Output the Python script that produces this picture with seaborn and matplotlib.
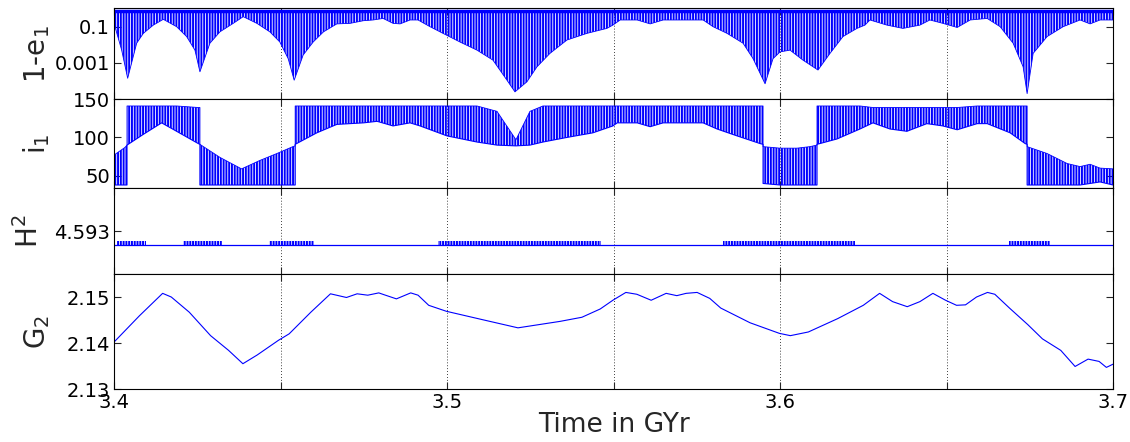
import numpy as np
import pandas as pd
import seaborn as sns
import matplotlib.pyplot as plt
from matplotlib.ticker import FixedLocator, FixedFormatter, NullLocator

# ---- 1-e1 : tips of the oscillation (upper edge is nearly flat) ----
e1_t = [3.4000, 3.4023, 3.4041, 3.4068, 3.4088, 3.4118, 3.4148, 3.4188, 3.4218,
        3.4243, 3.4258, 3.4288, 3.4318, 3.4358, 3.4388, 3.4429, 3.4468, 3.4498,
        3.4523, 3.4541, 3.4568, 3.4598, 3.4629, 3.4669, 3.4709, 3.4749, 3.4778,
        3.4808, 3.4838, 3.4859, 3.4889, 3.4913, 3.4949, 3.4988, 3.5039, 3.5090,
        3.5138, 3.5180, 3.5204, 3.5240, 3.5270, 3.5309, 3.5360, 3.5420, 3.5480,
        3.5498, 3.5520, 3.5571, 3.5610, 3.5649, 3.5769, 3.5799, 3.5841, 3.5889,
        3.5919, 3.5955, 3.5979, 3.6000, 3.6030, 3.6069, 3.6114, 3.6150, 3.6189,
        3.6231, 3.6255, 3.6270, 3.6321, 3.6369, 3.6420, 3.6450, 3.6489, 3.6532,
        3.6571, 3.6622, 3.6661, 3.6700, 3.6730, 3.6742, 3.6760, 3.6802, 3.6850,
        3.6901, 3.6931, 3.6961, 3.7000]
e1_low = [0.15, 5e-3, 1.4e-4, 0.012, 0.042, 0.12, 0.25, 0.098, 0.028,
          5e-3, 3.2e-4, 0.012, 0.051, 0.15, 0.35, 0.15, 0.051, 0.014,
          1.7e-3, 1.1e-4, 2.7e-3, 0.014, 0.051, 0.14, 0.15, 0.21, 0.23,
          0.28, 0.15, 0.14, 0.23, 0.23, 0.098, 0.042, 0.014, 5e-3,
          1.4e-3, 1.1e-4, 2.5e-5, 9e-5, 6e-4, 3.3e-3, 0.018, 0.042, 0.079,
          0.12, 0.23, 0.23, 0.14, 0.23, 0.23, 0.098, 0.042, 0.012,
          1.7e-3, 7e-5, 1.7e-3, 4e-3, 5e-3, 1.4e-3, 4e-4, 3.3e-3, 0.028,
          0.079, 0.12, 0.23, 0.12, 0.079, 0.12, 0.23, 0.15, 0.089,
          0.23, 0.28, 0.098, 0.012, 6e-4, 2e-5, 3.3e-3, 0.028, 0.098,
          0.23, 0.14, 0.23, 0.23]
E1_TOP = 0.7

# ---- i1 : upper / lower edges of the oscillation ----
inc_t = [3.4000, 3.4033, 3.4039, 3.4039, 3.4088, 3.4143, 3.4188, 3.4253, 3.4258,
         3.4258, 3.4318, 3.4383, 3.4438, 3.4489, 3.4537, 3.4544, 3.4544, 3.4609,
         3.4669, 3.4749, 3.4790, 3.4838, 3.4889, 3.4919, 3.5000, 3.5090, 3.5150,
         3.5207, 3.5249, 3.5288, 3.5360, 3.5438, 3.5498, 3.5511, 3.5571, 3.5610,
         3.5649, 3.5769, 3.5811, 3.5871, 3.5940, 3.5949, 3.5949, 3.6000, 3.6051,
         3.6090, 3.6111, 3.6111, 3.6171, 3.6240, 3.6279, 3.6330, 3.6381, 3.6441,
         3.6489, 3.6532, 3.6592, 3.6622, 3.6691, 3.6736, 3.6742, 3.6742, 3.6802,
         3.6862, 3.6901, 3.6931, 3.6961, 3.7000]
inc_up = [77, 87, 90, 141, 141, 141, 141, 139, 139,
          91, 74, 59, 70, 79, 88, 89, 141, 141,
          141, 141, 141, 141, 141, 141, 141, 141, 134,
          97, 134, 141, 141, 141, 141, 141, 141, 141,
          141, 141, 141, 141, 141, 141, 88, 86, 86,
          88, 90, 141, 141, 141, 139, 139, 139, 139,
          139, 139, 141, 141, 141, 141, 141, 88, 79,
          66, 62, 65, 60, 59]
inc_low = [38, 38, 38, 90, 104, 119, 108, 92, 91,
           38, 38, 38, 38, 38, 38, 38, 91, 106,
           117, 119, 121, 115, 119, 115, 102, 94, 90,
           89, 90, 94, 100, 106, 115, 119, 119, 114,
           119, 119, 111, 102, 92, 91, 40, 38, 38,
           38, 38, 91, 98, 111, 119, 111, 108, 118,
           115, 110, 118, 118, 106, 92, 91, 38, 38,
           38, 38, 40, 42, 38]

# ---- H^2 : flat level with short bursts ----
h2_base = 4.592837
h2_tip = 4.592884
h2_on = [3.4009, 3.4207, 3.4465, 3.4973, 3.5829, 3.6688]
h2_off = [3.4096, 3.4324, 3.4601, 3.5462, 3.6225, 3.6811]

# ---- G2 ----
g2_t = [3.4000, 3.4076, 3.4146, 3.4172, 3.4226, 3.4290, 3.4344, 3.4387, 3.4430,
        3.4494, 3.4526, 3.4591, 3.4650, 3.4698, 3.4730, 3.4762, 3.4795, 3.4811,
        3.4848, 3.4891, 3.4913, 3.4945, 3.4998, 3.5105, 3.5213, 3.5339, 3.5405,
        3.5460, 3.5498, 3.5537, 3.5570, 3.5613, 3.5658, 3.5690, 3.5718, 3.5751,
        3.5789, 3.5822, 3.5910, 3.5998, 3.6031, 3.6085, 3.6173, 3.6250, 3.6299,
        3.6338, 3.6382, 3.6420, 3.6459, 3.6497, 3.6530, 3.6557, 3.6590, 3.6623,
        3.6645, 3.6689, 3.6744, 3.6788, 3.6843, 3.6886, 3.6925, 3.6958, 3.6980,
        3.7000]
g2 = [2.1402, 2.1459, 2.1508, 2.1500, 2.1467, 2.1416, 2.1384, 2.1355, 2.1374,
      2.1406, 2.1420, 2.1467, 2.1507, 2.1499, 2.1507, 2.1504, 2.1509, 2.1505,
      2.1496, 2.1509, 2.1504, 2.1482, 2.1469, 2.1451, 2.1433, 2.1447, 2.1456,
      2.1474, 2.1493, 2.1510, 2.1506, 2.1493, 2.1508, 2.1503, 2.1508, 2.1510,
      2.1497, 2.1476, 2.1444, 2.1421, 2.1416, 2.1424, 2.1453, 2.1482, 2.1508,
      2.1490, 2.1479, 2.1490, 2.1508, 2.1493, 2.1482, 2.1483, 2.1500, 2.1510,
      2.1506, 2.1476, 2.1440, 2.1409, 2.1384, 2.1349, 2.1365, 2.1360, 2.1347,
      2.1354]

BLUE = '#0000ff'

sns.set_style('ticks')
plt.rcParams['font.family'] = ['DejaVu Sans']
plt.rcParams['mathtext.default'] = 'regular'
plt.rcParams['hatch.linewidth'] = 1.4
plt.rcParams['hatch.color'] = BLUE

fig = plt.figure(figsize=(11.3, 4.42), dpi=100)
gs = fig.add_gridspec(4, 1, height_ratios=[90.7, 89, 86, 115], hspace=0,
                      left=0.1009, right=0.985, top=0.981, bottom=0.1199)
axes = [fig.add_subplot(gs[0])]
for i in range(1, 4):
    axes.append(fig.add_subplot(gs[i], sharex=axes[0]))
ax1, ax2, ax3, ax4 = axes

# panel 1
ax1.set_yscale('log')
ax1.fill_between(e1_t, e1_low, E1_TOP, facecolor='none', edgecolor=BLUE,
                 hatch='||||||', linewidth=0)
sns.lineplot(x=e1_t, y=e1_low, ax=ax1, color=BLUE, lw=0.6, estimator=None, sort=False)
sns.lineplot(x=[3.4, 3.7], y=[E1_TOP, E1_TOP], ax=ax1, color=BLUE, lw=2.5, estimator=None)
ax1.set_ylim(1e-5, 1)
ax1.yaxis.set_major_locator(FixedLocator([1e-3, 1e-1]))
ax1.yaxis.set_major_formatter(FixedFormatter(['0.001', '0.1']))
ax1.yaxis.set_minor_locator(NullLocator())
ax1.set_ylabel(r'1-e$_1$')

# panel 2
ax2.fill_between(inc_t, inc_low, inc_up, facecolor='none', edgecolor=BLUE,
                 hatch='||||||', linewidth=0)
sns.lineplot(x=inc_t, y=inc_low, ax=ax2, color=BLUE, lw=0.8, estimator=None, sort=False)
sns.lineplot(x=inc_t, y=inc_up, ax=ax2, color=BLUE, lw=0.6, estimator=None, sort=False)
ax2.set_ylim(34, 150)
ax2.set_yticks([50, 100, 150])
ax2.set_ylabel(r'i$_1$')

# panel 3
sns.lineplot(x=[3.4, 3.7], y=[h2_base, h2_base], ax=ax3, color=BLUE, lw=0.9, estimator=None)
for a, b in zip(h2_on, h2_off):
    ax3.fill_between([a, b], h2_base, h2_tip, facecolor='none', edgecolor=BLUE,
                     hatch='||||||', linewidth=0)
ax3.set_ylim(4.5925, 4.5935)
ax3.set_yticks([4.593])
ax3.set_yticklabels(['4.593'])
ax3.set_ylabel(r'H$^2$')

# panel 4
sns.lineplot(x=g2_t, y=g2, ax=ax4, color=BLUE, lw=0.8, estimator=None)
ax4.set_ylim(2.13, 2.155)
ax4.set_yticks([2.13, 2.14, 2.15])
ax4.set_yticklabels(['2.13', '2.14', '2.15'])
ax4.set_ylabel(r'G$_2$')
ax4.set_xlabel('Time in GYr', fontsize=19, labelpad=0)

xt = [3.4, 3.45, 3.5, 3.55, 3.6, 3.65, 3.7]
for ax in axes:
    ax.set_xlim(3.4, 3.7)
    ax.set_xticks(xt)
    ax.grid(axis='x', color='black', linestyle=(0, (1, 2.5)), linewidth=0.6)
    ax.tick_params(direction='in', length=5, width=0.8, top=True, right=True,
                   labelsize=14, colors='#262626', labelcolor='black', pad=3)
    for s in ax.spines.values():
        s.set_color('black')
        s.set_linewidth(0.8)
    ax.yaxis.label.set_size(20)
    ax.yaxis.set_label_coords(-0.062, 0.5)
    if ax is not ax4:
        ax.tick_params(labelbottom=False)
ax3.yaxis.set_label_coords(-0.070, 0.5)
ax4.set_xticklabels(['3.4', '', '3.5', '', '3.6', '', '3.7'])

fig.savefig('out.png', dpi=100)
